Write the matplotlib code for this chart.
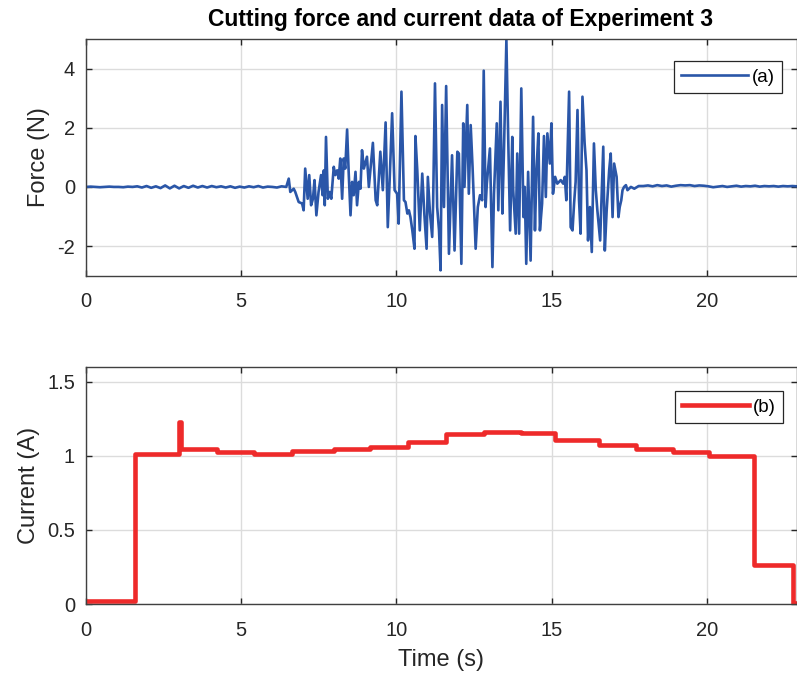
import numpy as np
import matplotlib
matplotlib.use('Agg')
import matplotlib.pyplot as plt

plt.rcParams['font.family'] = ['Liberation Sans', 'DejaVu Sans']
plt.rcParams['axes.unicode_minus'] = False

# force signal: quiet lead-in, cutting section, quiet tail
lead_t = np.arange(0, 6.46, 0.15)
lead_f = [0.0, 0.01, 0.0, -0.01, 0.0, 0.01, 0.0, 0.0, -0.01, 0.01,
          0.0, 0.02, -0.02, 0.03, -0.03, 0.02, -0.04, 0.05, -0.05, 0.04,
          -0.05, 0.03, -0.03, 0.04, -0.02, 0.03, -0.02, 0.03, -0.01, 0.02,
          -0.02, 0.02, -0.03, 0.01, -0.02, 0.02, -0.01, 0.03, -0.02, 0.01,
          0.0, -0.02, 0.02, 0.0]

cut_t = [6.53, 6.58, 6.69, 6.74, 6.85, 6.96, 7.01, 7.06, 7.14, 7.19,
         7.25, 7.31, 7.36, 7.42, 7.49, 7.57, 7.62, 7.66, 7.69, 7.73,
         7.79, 7.85, 7.90, 7.98, 8.03, 8.09, 8.14, 8.19, 8.25, 8.30,
         8.35, 8.41, 8.46, 8.52, 8.57, 8.62, 8.68, 8.73, 8.79, 8.84,
         8.89, 8.95, 9.05, 9.11, 9.16, 9.24, 9.33, 9.38, 9.48, 9.56,
         9.65, 9.72, 9.78, 9.86, 9.94, 10.02, 10.07, 10.16, 10.24, 10.29,
         10.35, 10.40, 10.45, 10.51, 10.58, 10.61, 10.67, 10.75, 10.83, 10.90,
         10.97, 11.01, 11.08, 11.15, 11.18, 11.24, 11.31, 11.37, 11.42, 11.47,
         11.53, 11.60, 11.69, 11.79, 11.87, 11.96, 12.01, 12.09, 12.15, 12.19,
         12.28, 12.33, 12.39, 12.45, 12.55, 12.62, 12.69, 12.76, 12.81, 12.87,
         12.91, 13.01, 13.09, 13.14, 13.23, 13.28, 13.35, 13.41, 13.46, 13.54,
         13.60, 13.66, 13.73, 13.76, 13.84, 13.89, 13.95, 14.02, 14.09, 14.13,
         14.18, 14.24, 14.28, 14.32, 14.40, 14.46, 14.51, 14.57, 14.62, 14.69,
         14.75, 14.81, 14.86, 14.94, 14.99, 15.04, 15.11, 15.18, 15.29, 15.37,
         15.42, 15.47, 15.56, 15.61, 15.67, 15.72, 15.77, 15.83, 15.88, 15.93,
         15.99, 16.06, 16.12, 16.17, 16.23, 16.29, 16.36, 16.42, 16.47, 16.56,
         16.66, 16.71, 16.77, 16.85, 16.90, 16.96, 17.01, 17.09, 17.15, 17.19,
         17.24, 17.28, 17.33, 17.39, 17.44, 17.55, 17.66, 17.80]
cut_f = [0.28, -0.17, -0.06, -0.17, -0.51, -0.56, -0.79, 0.62, -0.40, 0.40,
         -0.62, -0.40, 0.23, -0.96, -0.17, 0.40, -0.28, 0.56, -0.62, 1.69,
         -0.40, -0.17, -0.40, 0.68, 0.40, 0.56, 0.28, 0.96, -0.40, 0.96,
         0.62, 1.94, 0.51, -0.96, 0.17, -0.28, 0.51, -0.62, 0.17, -0.06,
         1.24, 0.62, 1.02, 0.0, 0.56, 1.49, -0.45, -0.62, 1.19, -0.11,
         2.18, -1.36, 0.23, 2.49, -0.11, -0.23, -1.24, 3.22, -0.45, -0.51,
         -0.90, -0.79, -1.02, -1.47, -2.09, 1.72, 0.56, -1.47, 0.45, -0.96,
         -2.09, 0.34, -0.90, -1.69, -0.56, 3.50, -0.68, -1.47, -2.82, 2.77,
         -0.68, 3.41, -2.26, 1.07, -2.15, 1.19, 1.13, -2.60, 2.15, 0.0,
         2.77, -0.23, 2.09, 0.68, -2.09, -0.68, -0.28, -0.45, 3.93, -0.68,
         0.11, 1.30, -2.71, -0.23, 2.15, -0.79, 2.88, -0.90, 1.13, 4.97,
         1.58, -1.47, 1.69, -0.11, -1.58, 1.13, -1.58, 3.33, -1.02, 0.0,
         -2.60, 0.51, -1.02, -2.49, 2.37, -1.47, 0.56, 1.81, -1.47, -0.56,
         1.72, -0.34, 1.81, 0.79, 2.15, -0.23, 0.34, 0.11, 0.23, 0.11,
         0.34, -0.45, 3.22, -1.36, -1.47, -0.56, 0.17, 2.60, -0.45, -1.58,
         3.05, 1.47, 0.56, -1.81, -0.68, -2.20, 1.47, -0.11, -0.79, -1.81,
         1.36, -2.15, -0.79, 0.56, 1.13, -1.02, 0.79, 0.34, -1.02, -0.68,
         -0.45, -0.11, 0.0, 0.06, -0.11, 0.0, -0.06, 0.03]

tail_t = np.arange(17.95, 22.95, 0.15)
tail_f = [0.03, 0.05, 0.02, 0.06, 0.03, 0.05, 0.01, 0.04, 0.06, 0.05,
          0.06, 0.03, 0.05, 0.04, 0.02, -0.01, 0.01, 0.03, 0.0, 0.02,
          0.04, 0.01, 0.03, 0.02, 0.04, 0.01, 0.03, 0.02, 0.03, 0.01,
          0.03, 0.02, 0.03, 0.02]

force_t = np.concatenate([lead_t, cut_t, tail_t[:len(tail_f)]])
force_f = np.concatenate([lead_f, cut_f, tail_f])

# motor current: stepwise levels (start time of each level)
current_t = [0, 1.58, 3.00, 3.07, 4.22, 5.42, 6.63, 7.98, 9.16, 10.38,
             11.60, 12.82, 14.0, 15.1, 16.53, 17.71, 18.91, 20.07, 21.53,
             22.76, 22.95]
current_a = [0.02, 1.01, 1.23, 1.045, 1.023, 1.01, 1.03, 1.045, 1.063, 1.097,
             1.147, 1.158, 1.153, 1.108, 1.074, 1.045, 1.025, 1.0, 0.263,
             0.01, 0.01]

blue = '#2a56a8'
red = '#ee2a2a'
dark = '#262626'

fig = plt.figure(figsize=(7.97, 6.77), dpi=100)
ax1 = fig.add_axes([0.1079, 0.5928, 0.8921, 0.3496])
ax2 = fig.add_axes([0.1079, 0.1078, 0.8921, 0.3501])

ax1.plot(force_t, force_f, color=blue, lw=1.9, label='(a)')
ax2.step(current_t, current_a, where='post', color=red, lw=3.3, label='(b)')

ax1.set_xlim(0, 22.9)
ax1.set_ylim(-3, 5)
ax1.set_yticks([-2, 0, 2, 4])
ax2.set_xlim(0, 22.9)
ax2.set_ylim(0, 1.6)
ax2.set_yticks([0, 0.5, 1, 1.5])
ax2.set_yticklabels(['0', '0.5', '1', '1.5'])

for ax in (ax1, ax2):
    ax.set_xticks([0, 5, 10, 15, 20])
    ax.grid(True, color='#dcdcdc', lw=1)
    ax.set_axisbelow(True)
    ax.tick_params(direction='in', length=4, width=1, labelsize=14.5,
                   top=True, right=True, colors=dark)
    ax.tick_params(axis='x', pad=12)
    ax.tick_params(axis='y', pad=8)
    for s in ax.spines.values():
        s.set_color('#404040')
        s.set_linewidth(1)
    leg = ax.legend(loc='upper right', fontsize=13.5, handlelength=3.55,
                    handletextpad=0.2, borderaxespad=0, fancybox=False,
                    framealpha=1, edgecolor=dark, borderpad=0.4)
    leg.get_frame().set_linewidth(0.9)

ax1.legend_.set_bbox_to_anchor((0.979, 0.907), transform=ax1.transAxes)
ax2.legend_.set_bbox_to_anchor((0.980, 0.899), transform=ax2.transAxes)

ax1.set_ylabel('Force (N)', fontsize=17, color=dark, labelpad=5)
ax2.set_ylabel('Current (A)', fontsize=17, color=dark, labelpad=5)
ax2.set_xlabel('Time (s)', fontsize=17, color=dark, labelpad=7)
ax1.set_title('Cutting force and current data of Experiment 3',
              fontsize=16.5, fontweight='bold', pad=9, x=0.527)

fig.savefig('out.png', dpi=100)
